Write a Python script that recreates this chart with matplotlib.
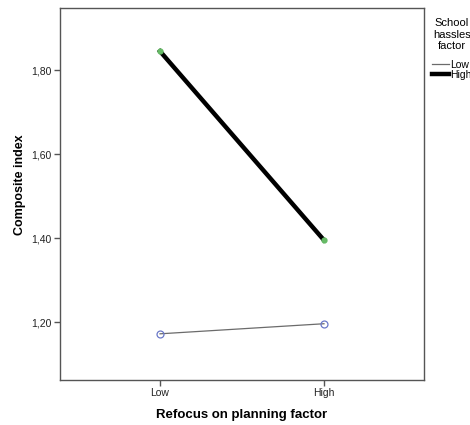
import matplotlib.pyplot as plt
import numpy as np

# data
refocus_levels = ["Low", "High"]
hassles_low = [1.172, 1.196]
hassles_high = [1.845, 1.395]
y_ticks = [1.20, 1.40, 1.60, 1.80]

plt.rcParams['font.family'] = ['Liberation Sans', 'DejaVu Sans']

fig = plt.figure(figsize=(4.7, 4.25), dpi=100)
ax = fig.add_axes([60/470, 45/425, 364/470, 372/425])

x = np.arange(len(refocus_levels))
ax.plot(x, hassles_low, color='#6b6b6b', lw=0.9, label='Low',
        marker='o', markersize=5, markerfacecolor='none',
        markeredgecolor='#6a78c8', markeredgewidth=0.9)
ax.plot(x, hassles_high, color='black', lw=3.2, label='High',
        marker='o', markersize=3.5, markerfacecolor='#66bb66',
        markeredgecolor='#66bb66')

ax.set_xlim(-0.61, 1.61)
ax.set_ylim(1.062, 1.948)
ax.set_xticks(x)
ax.set_xticklabels(refocus_levels)
ax.set_yticks(y_ticks)
ax.set_yticklabels([("%.2f" % v).replace(".", ",") for v in y_ticks])

for s in ax.spines.values():
    s.set_color('#555555')
    s.set_linewidth(1.0)
ax.tick_params(axis='both', labelsize=7.5, colors='#222222', length=4,
               width=1, direction='out', pad=2)
ax.tick_params(axis='both', color='#555555')

ax.set_xlabel('Refocus on planning factor', fontsize=9.5, fontweight='bold', labelpad=8)
ax.set_ylabel('Composite index', fontsize=9, fontweight='bold')
ax.yaxis.set_label_coords(-0.093, 0.525)

leg = fig.legend(*ax.get_legend_handles_labels(), title='School\nhassles\nfactor',
                 loc='upper center', bbox_to_anchor=(452/470, 1 - 18/425),
                 frameon=False, fontsize=7.5, title_fontsize=8,
                 handlelength=1.6, handletextpad=0.1, borderaxespad=0,
                 labelspacing=0.05, borderpad=0)
leg.get_title().set_multialignment('center')
leg.get_title().set_linespacing(1.2)
leg._legend_box.sep = 6
for h in leg.legend_handles:
    h.set_marker('')

fig.savefig('out.png', dpi=100)
